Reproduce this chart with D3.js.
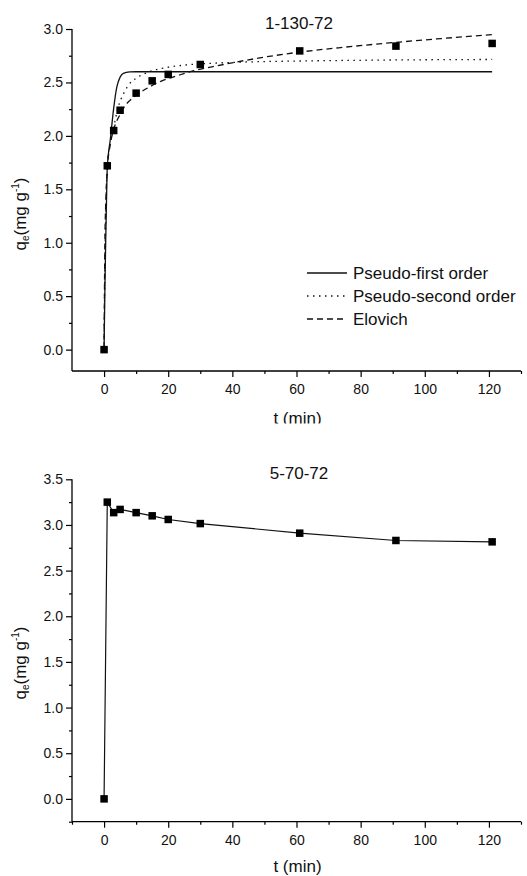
<!DOCTYPE html>
<html>
<head>
<meta charset="utf-8">
<script src="https://cdn.jsdelivr.net/npm/d3@7"></script>
<style>
  html, body { margin: 0; padding: 0; background: #fff; }
  svg { display: block; }
  text { font-family: "Liberation Sans", Arial, sans-serif; fill: #111; }
</style>
</head>
<body>
<script>
// ---------- data ----------
const titles = ["1-130-72", "5-70-72"];
const tTicks = [0, 20, 40, 60, 80, 100, 120];
const tMinor = [10, 30, 50, 70, 90, 110, 130];
const qTicksTop = [0.0, 0.5, 1.0, 1.5, 2.0, 2.5, 3.0];
const qMinorTop = [0.25, 0.75, 1.25, 1.75, 2.25, 2.75];
const qTicksBot = [0.0, 0.5, 1.0, 1.5, 2.0, 2.5, 3.0, 3.5];
const qMinorBot = [-0.25, 0.25, 0.75, 1.25, 1.75, 2.25, 2.75, 3.25];

// experimental points (t in min, q in mg/g)
const tPoints = [0, 1, 3, 5, 10, 15, 20, 30, 61, 91, 121];
const qTop = [0, 1.72, 2.05, 2.24, 2.40, 2.515, 2.575, 2.668, 2.795, 2.84, 2.865];
const qBot = [0, 3.25, 3.135, 3.17, 3.135, 3.10, 3.06, 3.015, 2.91, 2.83, 2.815];

// fitted curves
const pfoT = [0, 0.25, 0.5, 0.75, 1, 2, 3, 4, 5, 6, 8, 10, 20, 121];
const pfoQ = [0, 0.55, 1.0, 1.38, 1.70, 1.98, 2.26, 2.46, 2.55, 2.585, 2.598, 2.6, 2.6, 2.6];
const psoT = [0, 0.25, 0.5, 1, 2, 3, 4.4, 6, 7.5, 10, 12.5, 15, 18, 23, 28, 34, 45, 60, 90, 121];
const psoQ = [0, 0.75, 1.2, 1.72, 1.95, 2.08, 2.27, 2.39, 2.47, 2.54, 2.58, 2.61, 2.632, 2.655, 2.67, 2.68, 2.692, 2.70, 2.71, 2.715];
const eloT = [0, 0.25, 0.5, 1, 2, 3, 5, 6.5, 8, 10.5, 14, 18, 23, 28, 34, 48.6, 60, 75, 91, 105, 121];
const eloQ = [0, 1.0, 1.35, 1.68, 1.93, 2.06, 2.2, 2.28, 2.33, 2.39, 2.455, 2.515, 2.565, 2.61, 2.648, 2.73, 2.78, 2.83, 2.875, 2.91, 2.947];

const legendLabels = ["Pseudo-first order", "Pseudo-second order", "Elovich"];
const legendDash = [null, "1.5,4.5", "6,4"];

// ---------- drawing ----------
const W = 527, H = 876;
const svg = d3.select("body").append("svg").attr("width", W).attr("height", H);

svg.append("defs").append("clipPath").attr("id", "clipTop")
  .append("rect").attr("x", 0).attr("y", 0).attr("width", W).attr("height", 423.5);

function panel(g, cfg) {
  const x = d3.scaleLinear().domain([-10, 130]).range([72, 521]);
  const y = d3.scaleLinear().domain(cfg.yDomain).range(cfg.yRange);
  const x0 = 72, yb = cfg.yRange[0];

  // axes lines
  g.append("line").attr("x1", x0).attr("x2", x0).attr("y1", cfg.yRange[1]).attr("y2", yb)
    .attr("stroke", "#000").attr("stroke-width", 1.3);
  g.append("line").attr("x1", x0).attr("x2", 521).attr("y1", yb).attr("y2", yb)
    .attr("stroke", "#000").attr("stroke-width", 1.3);

  // y ticks
  const yAx = d3.axisLeft(y).tickValues(cfg.yTicks).tickSize(6).tickPadding(3)
    .tickFormat(d3.format(".1f"));
  const ya = g.append("g").attr("transform", `translate(${x0},0)`).call(yAx);
  const yMinAx = d3.axisLeft(y).tickValues(cfg.yMinor).tickSize(3).tickFormat("");
  const ym = g.append("g").attr("transform", `translate(${x0},0)`).call(yMinAx);

  // x ticks
  const xAx = d3.axisBottom(x).tickValues(tTicks).tickSize(6).tickPadding(7)
    .tickFormat(d3.format("d"));
  const xa = g.append("g").attr("transform", `translate(0,${yb})`).call(xAx);
  const xMinAx = d3.axisBottom(x).tickValues(cfg.xMinor).tickSize(3).tickFormat("");
  const xm = g.append("g").attr("transform", `translate(0,${yb})`).call(xMinAx);

  [ya, ym, xa, xm].forEach(a => {
    a.select(".domain").remove();
    a.selectAll("line").attr("stroke", "#000").attr("stroke-width", 1.2);
    a.selectAll("text").attr("font-size", 14).attr("fill", "#111")
      .attr("font-family", '"Liberation Sans", Arial, sans-serif');
  });

  // title
  g.append("text").attr("x", 299).attr("y", cfg.titleY).attr("text-anchor", "middle")
    .attr("font-size", 17).text(cfg.title);

  // x label
  g.append("text").attr("x", 297.5).attr("y", yb + cfg.xLabelOff).attr("text-anchor", "middle")
    .attr("font-size", 17).text("t (min)");

  // y label
  const yl = g.append("text")
    .attr("transform", `translate(25.5,${cfg.yLabelY}) rotate(-90)`)
    .attr("text-anchor", "middle").attr("font-size", 17);
  yl.append("tspan").text("q");
  yl.append("tspan").attr("font-size", 10).attr("dy", 3).text("e");
  yl.append("tspan").attr("dy", -3).text("(mg g");
  yl.append("tspan").attr("font-size", 10).attr("dy", -7).text("-1");
  yl.append("tspan").attr("dy", 7).text(")");

  return { x, y };
}

// top panel
const gTop = svg.append("g").attr("clip-path", "url(#clipTop)");
const pTop = panel(gTop, {
  yDomain: [-0.2, 3.0], yRange: [371, 29],
  yTicks: qTicksTop, yMinor: qMinorTop, xMinor: tMinor,
  title: titles[0], titleY: 29, yLabelY: 214, xLabelOff: 52.5
});

const lineTop = d3.line().x(d => pTop.x(d[0])).y(d => pTop.y(d[1])).curve(d3.curveMonotoneX);
const curves = [
  { t: pfoT, q: pfoQ, dash: legendDash[0] },
  { t: psoT, q: psoQ, dash: legendDash[1] },
  { t: eloT, q: eloQ, dash: legendDash[2] }
];
curves.forEach(c => {
  gTop.append("path").datum(d3.zip(c.t, c.q)).attr("d", lineTop)
    .attr("fill", "none").attr("stroke", "#111").attr("stroke-width", 1.3)
    .attr("stroke-dasharray", c.dash);
});

const ms = 7.5;
gTop.selectAll("rect.pt").data(d3.zip(tPoints, qTop)).join("rect")
  .attr("class", "pt")
  .attr("x", d => pTop.x(d[0]) - ms / 2).attr("y", d => pTop.y(d[1]) - ms / 2)
  .attr("width", ms).attr("height", ms).attr("fill", "#000");

// legend
const lg = gTop.append("g");
legendLabels.forEach((lab, i) => {
  const yy = 273 + i * 23;
  lg.append("line").attr("x1", 307).attr("x2", 347).attr("y1", yy).attr("y2", yy)
    .attr("stroke", "#111").attr("stroke-width", 1.3).attr("stroke-dasharray", legendDash[i]);
  lg.append("text").attr("x", 353).attr("y", yy).attr("dy", "0.36em")
    .attr("font-size", 17).text(lab);
});

// bottom panel
const gBot = svg.append("g");
const pBot = panel(gBot, {
  yDomain: [-0.25, 3.5], yRange: [821.7, 479.3],
  yTicks: qTicksBot, yMinor: qMinorBot, xMinor: [-10].concat(tMinor),
  title: titles[1], titleY: 479, yLabelY: 663, xLabelOff: 50
});
const lineBot = d3.line().x(d => pBot.x(d[0])).y(d => pBot.y(d[1]));
gBot.append("path").datum(d3.zip(tPoints, qBot)).attr("d", lineBot)
  .attr("fill", "none").attr("stroke", "#111").attr("stroke-width", 1.2);
gBot.selectAll("rect.pt").data(d3.zip(tPoints, qBot)).join("rect")
  .attr("class", "pt")
  .attr("x", d => pBot.x(d[0]) - ms / 2).attr("y", d => pBot.y(d[1]) - ms / 2)
  .attr("width", ms).attr("height", ms).attr("fill", "#000");
</script>
</body>
</html>
